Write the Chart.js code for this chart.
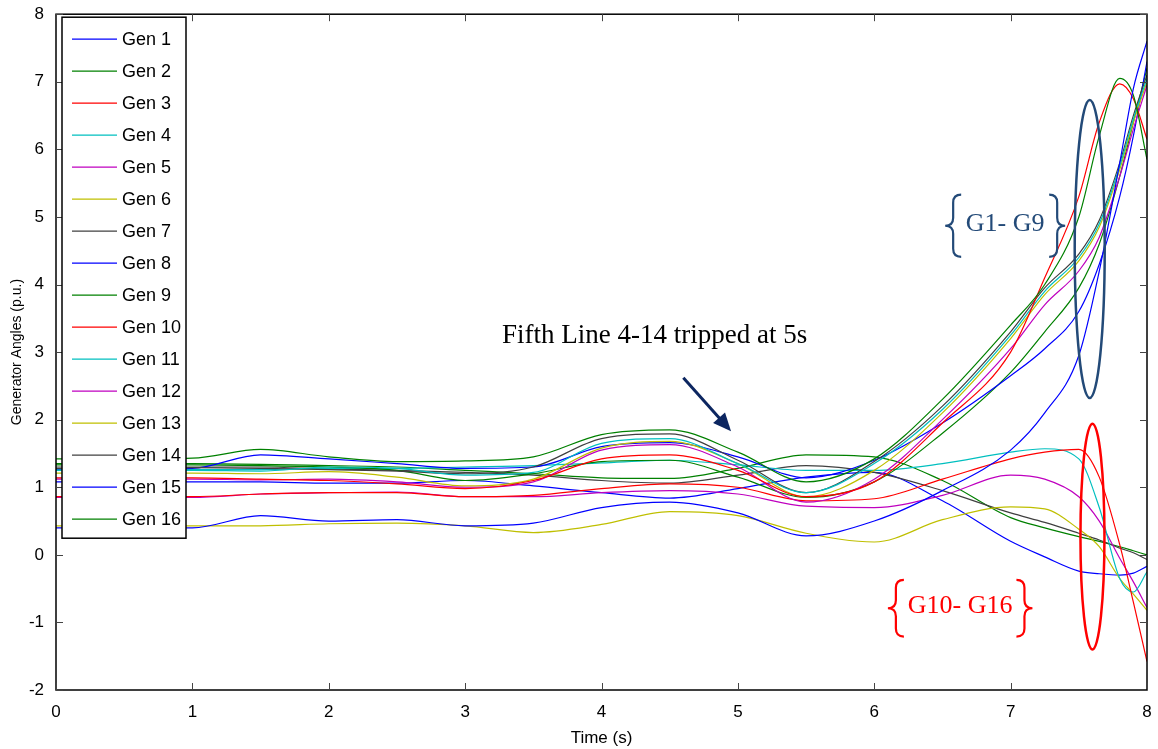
<!DOCTYPE html>
<html>
<head>
<meta charset="utf-8">
<script src="https://cdn.jsdelivr.net/npm/chart.js@4.4.1/dist/chart.umd.min.js"></script>
<style>
  html, body { margin: 0; padding: 0; background: #fff; }
  #wrap { width: 1158px; height: 749px; }
</style>
</head>
<body>
<div id="wrap"><canvas id="anglesChart" width="1158" height="749"></canvas></div>
<script>
// time samples (s)
const times = [0, 0.5, 1, 1.5, 2, 2.5, 3, 3.5, 4, 4.5, 5, 5.5, 6, 6.5, 7, 7.25, 7.5, 7.65, 7.8, 7.9, 8];

// generator angles (p.u.)
const gen1  = [0.40, 0.40, 0.40, 0.58, 0.50, 0.52, 0.43, 0.47, 0.70, 0.78, 0.62, 0.28, 0.50, 0.95, 1.55, 2.10, 2.95, 4.20, 5.80, 6.90, 7.60];
const gen2  = [1.42, 1.42, 1.43, 1.56, 1.45, 1.38, 1.39, 1.45, 1.78, 1.85, 1.52, 1.08, 1.42, 2.30, 3.40, 4.00, 5.00, 6.20, 7.05, 6.80, 5.85];
const gen3  = [1.14, 1.14, 1.14, 1.12, 1.10, 1.05, 0.98, 1.10, 1.42, 1.48, 1.25, 0.86, 1.08, 1.95, 3.00, 4.10, 5.30, 6.40, 6.97, 6.75, 6.15];
const gen4  = [1.25, 1.25, 1.25, 1.24, 1.30, 1.28, 1.18, 1.22, 1.65, 1.72, 1.35, 0.92, 1.35, 2.15, 3.25, 3.90, 4.40, 4.90, 5.75, 6.45, 7.05];
const gen5  = [1.12, 1.12, 1.12, 1.11, 1.12, 1.08, 1.00, 1.08, 1.55, 1.63, 1.30, 0.78, 1.12, 2.00, 3.05, 3.70, 4.20, 4.70, 5.60, 6.30, 6.95];
const gen6  = [1.21, 1.21, 1.21, 1.20, 1.23, 1.15, 1.02, 1.12, 1.58, 1.68, 1.35, 0.86, 1.25, 2.10, 3.20, 3.85, 4.35, 4.85, 5.70, 6.40, 7.00];
const gen7  = [1.28, 1.28, 1.29, 1.28, 1.26, 1.24, 1.20, 1.30, 1.72, 1.79, 1.40, 0.92, 1.38, 2.20, 3.30, 3.95, 4.45, 4.95, 5.80, 6.50, 7.10];
const gen8  = [1.27, 1.27, 1.28, 1.48, 1.42, 1.35, 1.28, 1.30, 1.60, 1.66, 1.45, 1.14, 1.40, 1.95, 2.65, 3.05, 3.60, 4.30, 5.30, 6.20, 7.30];
const gen9  = [1.33, 1.33, 1.33, 1.32, 1.30, 1.25, 1.10, 1.20, 1.38, 1.40, 1.15, 0.85, 1.08, 1.80, 2.70, 3.30, 3.95, 4.60, 5.60, 6.40, 7.20];
const gen10 = [0.86, 0.86, 0.86, 0.90, 0.92, 0.92, 0.86, 0.88, 0.98, 1.05, 1.00, 0.80, 0.83, 1.12, 1.42, 1.52, 1.56, 1.15, 0.15, -0.70, -1.58];
const gen11 = [1.26, 1.26, 1.26, 1.26, 1.28, 1.28, 1.30, 1.32, 1.36, 1.40, 1.33, 1.25, 1.25, 1.35, 1.52, 1.57, 1.42, 0.70, -0.35, -0.55, -0.25];
const gen12 = [0.85, 0.85, 0.85, 0.90, 0.92, 0.93, 0.86, 0.86, 0.92, 0.95, 0.90, 0.72, 0.70, 0.88, 1.18, 1.12, 0.86, 0.50, -0.05, -0.40, -0.78];
const gen13 = [0.43, 0.43, 0.43, 0.43, 0.46, 0.47, 0.43, 0.33, 0.45, 0.64, 0.58, 0.32, 0.19, 0.52, 0.71, 0.68, 0.38, 0.12, -0.35, -0.58, -0.82];
const gen14 = [1.30, 1.30, 1.30, 1.30, 1.27, 1.25, 1.22, 1.18, 1.10, 1.06, 1.18, 1.32, 1.22, 0.95, 0.62, 0.48, 0.32, 0.22, 0.10, 0.03, -0.07];
const gen15 = [1.08, 1.08, 1.08, 1.08, 1.06, 1.06, 1.10, 1.02, 0.92, 0.84, 0.98, 1.15, 1.22, 0.80, 0.20, -0.03, -0.24, -0.28, -0.30, -0.27, -0.17];
const gen16 = [1.35, 1.35, 1.35, 1.34, 1.32, 1.30, 1.25, 1.20, 1.14, 1.13, 1.28, 1.48, 1.45, 1.10, 0.55, 0.40, 0.27, 0.20, 0.12, 0.06, 0.00];

const genLabels = ["Gen 1", "Gen 2", "Gen 3", "Gen 4", "Gen 5", "Gen 6", "Gen 7", "Gen 8",
                   "Gen 9", "Gen 10", "Gen 11", "Gen 12", "Gen 13", "Gen 14", "Gen 15", "Gen 16"];
const genSeries = [gen1, gen2, gen3, gen4, gen5, gen6, gen7, gen8,
                   gen9, gen10, gen11, gen12, gen13, gen14, gen15, gen16];
// old matlab line order
const lineColors = ["#0000ff", "#008000", "#ff0000", "#00bfbf", "#bf00bf", "#bfbf00", "#404040"];

const xTicks = [0, 1, 2, 3, 4, 5, 6, 7, 8];
const yTicks = [-2, -1, 0, 1, 2, 3, 4, 5, 6, 7, 8];

const sansFont = "'Liberation Sans', Arial, sans-serif";
const serifFont = "'Liberation Serif', 'Times New Roman', serif";

function drawBrace(ctx, xTip, yTop, yBot, w, side) {
    const s = side === "left" ? 1 : -1;
    const mx = xTip + s * w / 2;
    const ex = xTip + s * w;
    const mid = (yTop + yBot) / 2;
    const r = Math.min(w / 2, (yBot - yTop) / 4);
    ctx.beginPath();
    ctx.moveTo(ex, yTop);
    ctx.quadraticCurveTo(mx, yTop, mx, yTop + r);
    ctx.lineTo(mx, mid - r);
    ctx.quadraticCurveTo(mx, mid, xTip, mid);
    ctx.quadraticCurveTo(mx, mid, mx, mid + r);
    ctx.lineTo(mx, yBot - r);
    ctx.quadraticCurveTo(mx, yBot, ex, yBot);
    ctx.stroke();
}

// box, inward ticks, notes and the legend drawn on top of the lines
const decorPlugin = {
    id: "decor",
    afterDatasetsDraw(chart) {
        const ctx = chart.ctx;
        const a = chart.chartArea;
        const xs = chart.scales.x;
        const ys = chart.scales.y;
        ctx.save();

        // axes box
        ctx.strokeStyle = "#000";
        ctx.lineWidth = 1.5;
        ctx.strokeRect(a.left, a.top, a.right - a.left, a.bottom - a.top);

        // inward ticks
        ctx.lineWidth = 1;
        ctx.strokeStyle = "#444";
        xTicks.forEach(function (t) {
            const px = Math.round(xs.getPixelForValue(t)) + 0.5;
            ctx.beginPath();
            ctx.moveTo(px, a.bottom); ctx.lineTo(px, a.bottom - 7);
            ctx.moveTo(px, a.top); ctx.lineTo(px, a.top + 7);
            ctx.stroke();
        });
        yTicks.forEach(function (v) {
            const py = Math.round(ys.getPixelForValue(v)) + 0.5;
            ctx.beginPath();
            ctx.moveTo(a.left, py); ctx.lineTo(a.left + 7, py);
            ctx.moveTo(a.right, py); ctx.lineTo(a.right - 7, py);
            ctx.stroke();
        });

        // note and arrow
        ctx.fillStyle = "#000";
        ctx.font = "27px " + serifFont;
        ctx.textAlign = "center";
        ctx.textBaseline = "alphabetic";
        ctx.fillText("Fifth Line 4-14 tripped at 5s", xs.getPixelForValue(4.39), ys.getPixelForValue(3.14));

        const ax0 = xs.getPixelForValue(4.6), ay0 = ys.getPixelForValue(2.62);
        const ax1 = xs.getPixelForValue(4.95), ay1 = ys.getPixelForValue(1.83);
        const ang = Math.atan2(ay1 - ay0, ax1 - ax0);
        ctx.strokeStyle = "#0c2660";
        ctx.fillStyle = "#0c2660";
        ctx.lineWidth = 3;
        ctx.beginPath();
        ctx.moveTo(ax0, ay0);
        ctx.lineTo(ax1 - 14 * Math.cos(ang), ay1 - 14 * Math.sin(ang));
        ctx.stroke();
        ctx.beginPath();
        ctx.moveTo(ax1, ay1);
        ctx.lineTo(ax1 - 18 * Math.cos(ang) + 8 * Math.sin(ang), ay1 - 18 * Math.sin(ang) - 8 * Math.cos(ang));
        ctx.lineTo(ax1 - 18 * Math.cos(ang) - 8 * Math.sin(ang), ay1 - 18 * Math.sin(ang) + 8 * Math.cos(ang));
        ctx.closePath();
        ctx.fill();

        // G1 - G9 group
        const blue = "#234a78";
        ctx.strokeStyle = blue;
        ctx.lineWidth = 2.5;
        ctx.beginPath();
        const by0 = ys.getPixelForValue(6.73), by1 = ys.getPixelForValue(2.32);
        ctx.ellipse(xs.getPixelForValue(7.58), (by0 + by1) / 2, 15, (by1 - by0) / 2, 0, 0, Math.PI * 2);
        ctx.stroke();
        ctx.lineWidth = 2.2;
        drawBrace(ctx, xs.getPixelForValue(6.52), ys.getPixelForValue(5.33), ys.getPixelForValue(4.41), 16, "left");
        drawBrace(ctx, xs.getPixelForValue(7.40), ys.getPixelForValue(5.33), ys.getPixelForValue(4.41), 16, "right");
        ctx.fillStyle = blue;
        ctx.font = "26px " + serifFont;
        ctx.textBaseline = "middle";
        ctx.fillText("G1- G9", xs.getPixelForValue(6.96), ys.getPixelForValue(4.89));

        // G10 - G16 group
        ctx.strokeStyle = "#ff0000";
        ctx.lineWidth = 2.5;
        ctx.beginPath();
        const ry0 = ys.getPixelForValue(1.94), ry1 = ys.getPixelForValue(-1.4);
        ctx.ellipse(xs.getPixelForValue(7.6), (ry0 + ry1) / 2, 12, (ry1 - ry0) / 2, 0, 0, Math.PI * 2);
        ctx.stroke();
        ctx.lineWidth = 2.2;
        drawBrace(ctx, xs.getPixelForValue(6.1), ys.getPixelForValue(-0.37), ys.getPixelForValue(-1.21), 16, "left");
        drawBrace(ctx, xs.getPixelForValue(7.16), ys.getPixelForValue(-0.37), ys.getPixelForValue(-1.21), 16, "right");
        ctx.fillStyle = "#ff0000";
        ctx.fillText("G10- G16", xs.getPixelForValue(6.63), ys.getPixelForValue(-0.76));

        // legend box
        const lx = a.left + 6, ly = a.top + 3, lw = 124, lh = 521;
        ctx.fillStyle = "#fff";
        ctx.fillRect(lx, ly, lw, lh);
        ctx.strokeStyle = "#000";
        ctx.lineWidth = 1.5;
        ctx.strokeRect(lx, ly, lw, lh);
        ctx.font = "18px " + sansFont;
        ctx.textAlign = "left";
        ctx.textBaseline = "middle";
        chart.data.datasets.forEach(function (ds, i) {
            const yy = ly + 22 + i * 32;
            ctx.strokeStyle = ds.borderColor;
            ctx.lineWidth = 1.2;
            ctx.beginPath();
            ctx.moveTo(lx + 10, yy);
            ctx.lineTo(lx + 55, yy);
            ctx.stroke();
            ctx.fillStyle = "#000";
            ctx.fillText(ds.label, lx + 60, yy + 1);
        });

        ctx.restore();
    }
};

const datasets = genSeries.map(function (vals, i) {
    return {
        label: genLabels[i],
        data: times.map(function (t, k) { return { x: t, y: vals[k] }; }),
        borderColor: lineColors[i % lineColors.length],
        borderWidth: 1.2,
        pointRadius: 0,
        fill: false,
        cubicInterpolationMode: "monotone"
    };
});

new Chart(document.getElementById("anglesChart").getContext("2d"), {
    type: "line",
    data: { datasets: datasets },
    plugins: [decorPlugin],
    options: {
        responsive: false,
        animation: false,
        devicePixelRatio: 1,
        layout: { padding: { top: 14, right: 11, left: 0, bottom: 0 } },
        plugins: {
            legend: { display: false },
            tooltip: { enabled: false }
        },
        scales: {
            x: {
                type: "linear",
                min: 0,
                max: 8,
                grid: { display: false },
                border: { display: false },
                ticks: {
                    stepSize: 1,
                    color: "#000",
                    font: { family: sansFont, size: 17 },
                    maxRotation: 0,
                    padding: 4
                },
                title: {
                    display: true,
                    text: "Time (s)",
                    color: "#000",
                    font: { family: sansFont, size: 17 },
                    padding: { top: 2, bottom: 0 }
                },
                afterFit: function (scale) { scale.height = 59; }
            },
            y: {
                type: "linear",
                min: -2,
                max: 8,
                grid: { display: false },
                border: { display: false },
                ticks: {
                    stepSize: 1,
                    color: "#000",
                    font: { family: sansFont, size: 17 },
                    padding: 4
                },
                title: {
                    display: true,
                    text: "Generator Angles (p.u.)",
                    color: "#000",
                    font: { family: sansFont, size: 14 },
                    padding: { top: 9, bottom: 0 }
                },
                afterFit: function (scale) { scale.width = 56; }
            }
        }
    }
});
</script>
</body>
</html>
